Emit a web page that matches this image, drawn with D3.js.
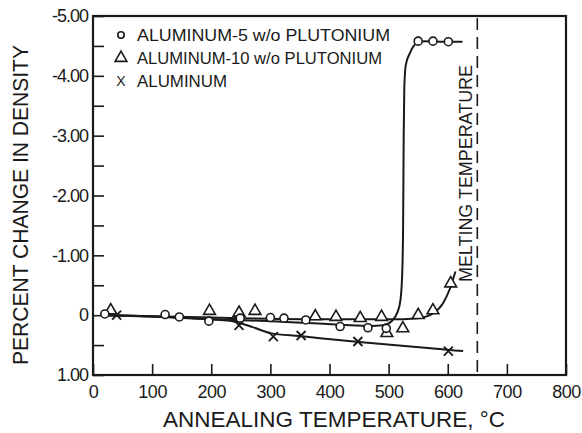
<!DOCTYPE html>
<html>
<head>
<meta charset="utf-8">
<script src="https://cdn.jsdelivr.net/npm/d3@7"></script>
<style>
    body { margin: 0; background: #fff; }
    text { font-family: "Liberation Sans", Arial, sans-serif; fill: #1a1a1a; }
</style>
</head>
<body>
<div id="chart"></div>
<script>
// ------------------------------------------------- Data -------------------------------------------------
// measured points [temperature C, percent change in density]
const al5Points = [[20, -0.02], [122, -0.01], [146, 0.03], [196, 0.1], [249, 0.05], [300, 0.04], [323, 0.05],
    [360, 0.08], [418, 0.19], [465, 0.21], [496, 0.22], [550, -4.58], [575, -4.58], [601, -4.57]];
const al10Points = [[30, -0.08], [197, -0.07], [247, -0.04], [274, -0.07], [376, 0.02], [411, 0.03], [452, 0.05],
    [488, 0.03], [497, 0.3], [524, 0.22], [550, 0.0], [575, -0.08], [605, -0.53]];
const alPoints = [[40, 0.0], [247, 0.17], [305, 0.36], [352, 0.34], [448, 0.44], [601, 0.6]];

// hand drawn curves
const al5Curve = [[20, 0], [120, 0.03], [200, 0.07], [300, 0.1], [420, 0.16], [470, 0.18], [490, 0.17], [505, 0.1],
    [515, -0.05], [520, -0.25], [523, -0.7], [524.5, -1.5], [525.5, -3.0], [526.5, -3.8], [529, -4.18], [536, -4.38],
    [548, -4.55], [560, -4.58], [600, -4.57], [625, -4.57]];
const al10Curve = [[25, 0], [200, 0.04], [300, 0.06], [400, 0.07], [500, 0.07], [550, 0.05], [575, -0.03],
    [592, -0.2], [604, -0.45], [613, -0.73]];
const alCurve = [[25, 0], [100, 0.02], [200, 0.07], [240, 0.11], [270, 0.2], [300, 0.3], [350, 0.35], [450, 0.45],
    [600, 0.58], [626, 0.6]];

const xTicks = [0, 100, 200, 300, 400, 500, 600, 700, 800];
const yTicks = [-5, -4.5, -4, -3.5, -3, -2.5, -2, -1.5, -1, -0.5, 0, 0.5, 1];
const yTickLabels = { "-5": "-5.00", "-4": "-4.00", "-3": "-3.00", "-2": "-2.00", "-1": "-1.00", "0": "0", "1": "1.00" };
const legendLabels = ["ALUMINUM-5 w/o PLUTONIUM", "ALUMINUM-10 w/o PLUTONIUM", "ALUMINUM"];
const meltingTemp = 650;

// ------------------------------------------------- Layout -------------------------------------------------
const width = 582, height = 433;
const plot = { left: 93, right: 566, top: 16, bottom: 375 };
const ink = "#1a1a1a";

const svg = d3.select("#chart").append("svg")
    .attr("width", width)
    .attr("height", height);

svg.append("rect").attr("width", width).attr("height", height).attr("fill", "#fff");

const x = d3.scaleLinear().domain([0, 800]).range([plot.left, plot.right]);
const y = d3.scaleLinear().domain([-5, 1]).range([plot.top, plot.bottom]);

// ------------------------------------------------- Axes -------------------------------------------------
const xAxis = svg.append("g")
    .attr("transform", `translate(0,${plot.bottom})`)
    .call(d3.axisBottom(x).tickValues(xTicks).tickSize(-11).tickPadding(10).tickFormat(d3.format("d")));

const yAxis = svg.append("g")
    .attr("transform", `translate(${plot.left},0)`)
    .call(d3.axisLeft(y).tickValues(yTicks).tickSize(-11).tickPadding(5)
        .tickFormat(d => yTickLabels[String(d)] || ""));

[xAxis, yAxis].forEach(a => {
    a.select(".domain").remove();
    a.selectAll("line").attr("stroke", ink).attr("stroke-width", 1.6);
    a.selectAll("text").style("font-size", "18px").attr("fill", ink);
});
xAxis.selectAll("text").attr("letter-spacing", "-0.5px");
yAxis.selectAll("text").attr("letter-spacing", "-1px");

// frame
svg.append("rect")
    .attr("x", plot.left).attr("y", plot.top)
    .attr("width", plot.right - plot.left).attr("height", plot.bottom - plot.top)
    .attr("fill", "none").attr("stroke", ink).attr("stroke-width", 2.2);

// ------------------------------------------------- Melting Line -------------------------------------------------
svg.append("line")
    .attr("x1", x(meltingTemp)).attr("x2", x(meltingTemp))
    .attr("y1", plot.top + 2).attr("y2", plot.bottom)
    .attr("stroke", ink).attr("stroke-width", 1.6)
    .attr("stroke-dasharray", "12,7");

svg.append("text")
    .attr("transform", `translate(${x(meltingTemp) - 5},${(65 + 282) / 2}) rotate(-90)`)
    .attr("text-anchor", "middle")
    .style("font-size", "19px")
    .attr("textLength", 217)
    .attr("lengthAdjust", "spacingAndGlyphs")
    .text("MELTING  TEMPERATURE");

// ------------------------------------------------- Curves -------------------------------------------------
const line = d3.line()
    .x(d => x(d[0]))
    .y(d => y(d[1]))
    .curve(d3.curveMonotoneX);

[alCurve, al10Curve, al5Curve].forEach(c => {
    svg.append("path")
        .attr("d", line(c))
        .attr("fill", "none")
        .attr("stroke", ink)
        .attr("stroke-width", 2);
});

// ------------------------------------------------- Markers -------------------------------------------------
const triangle = d3.symbol().type(d3.symbolTriangle).size(60);

function drawCircle(g, cx, cy, r = 4) {
    g.append("circle").attr("cx", cx).attr("cy", cy).attr("r", r)
        .attr("fill", "#fff").attr("stroke", ink).attr("stroke-width", 1.6);
}
function drawTriangle(g, cx, cy) {
    g.append("path").attr("d", triangle()).attr("transform", `translate(${cx},${cy})`)
        .attr("fill", "#fff").attr("stroke", ink).attr("stroke-width", 1.6);
}
function drawCross(g, cx, cy) {
    const s = 4.5;
    g.append("path").attr("d", `M${cx - s},${cy - s}L${cx + s},${cy + s}M${cx - s},${cy + s}L${cx + s},${cy - s}`)
        .attr("stroke", ink).attr("stroke-width", 1.8);
}

const marks = svg.append("g");
alPoints.forEach(d => drawCross(marks, x(d[0]), y(d[1])));
al10Points.forEach(d => drawTriangle(marks, x(d[0]), y(d[1])));
al5Points.forEach(d => drawCircle(marks, x(d[0]), y(d[1])));

// ------------------------------------------------- Legend -------------------------------------------------
const legend = svg.append("g");
const legendWidths = [253, 245, 90];
legendLabels.forEach((label, i) => {
    const ly = 35 + i * 23;
    if (i === 0) {
        drawCircle(legend, 121, ly, 3.2);
    } else if (i === 1) {
        drawTriangle(legend, 121, ly);
    } else {
        legend.append("text").attr("x", 121).attr("y", ly + 5).attr("text-anchor", "middle")
            .style("font-size", "14px").text("X");
    }
    legend.append("text")
        .attr("x", 137).attr("y", ly + 6)
        .style("font-size", "17px")
        .attr("textLength", legendWidths[i])
        .attr("lengthAdjust", "spacingAndGlyphs")
        .text(label);
});

// ------------------------------------------------- Axis Titles -------------------------------------------------
svg.append("text")
    .attr("transform", `translate(28,205) rotate(-90)`)
    .attr("text-anchor", "middle")
    .style("font-size", "22px")
    .attr("textLength", 320)
    .attr("lengthAdjust", "spacingAndGlyphs")
    .text("PERCENT  CHANGE  IN  DENSITY");

svg.append("text")
    .attr("x", 334).attr("y", 427)
    .attr("text-anchor", "middle")
    .style("font-size", "22px")
    .attr("textLength", 342)
    .attr("lengthAdjust", "spacingAndGlyphs")
    .text("ANNEALING  TEMPERATURE, °C");
</script>
</body>
</html>
